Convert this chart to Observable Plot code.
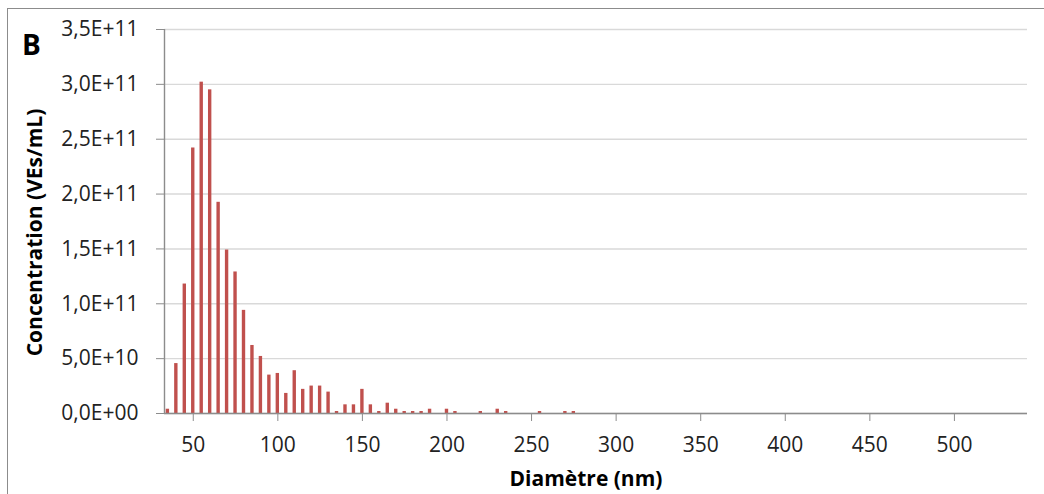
<!DOCTYPE html>
<html>
<head>
<meta charset="utf-8">
<script src="https://cdn.jsdelivr.net/npm/d3@7"></script>
<script src="https://cdn.jsdelivr.net/npm/@observablehq/plot@0.6"></script>
<style>
  html, body { margin: 0; padding: 0; background: #fff; overflow: hidden; }
  #wrap { position: relative; width: 1044px; height: 494px; overflow: hidden; }
  #wrap svg { display: block; }
  #frame { position: absolute; left: 7px; top: 8px; width: 1100px; height: 600px;
           border-left: 1.5px solid #8c8c8c; border-top: 1.5px solid #8c8c8c;
           pointer-events: none; box-sizing: border-box; }
</style>
</head>
<body>
<div id="wrap"><div id="frame"></div></div>
<script>
// Diameter bins (nm) and concentration (VEs/mL)
const diameters = [35, 40, 45, 50, 55, 60, 65, 70, 75, 80, 85, 90, 95, 100, 105, 110, 115, 120, 125, 130,
                   135, 140, 145, 150, 155, 160, 165, 170, 175, 180, 185, 190, 200, 205, 220, 230, 235, 255, 270, 275];
const concentrations = [3.9e9, 4.55e10, 1.18e11, 2.42e11, 3.02e11, 2.95e11, 1.925e11, 1.49e11, 1.29e11, 9.4e10,
                        6.2e10, 5.2e10, 3.5e10, 3.65e10, 1.83e10, 3.9e10, 2.2e10, 2.5e10, 2.5e10, 1.95e10,
                        1.8e9, 7.9e9, 7.9e9, 2.2e10, 7.9e9, 1.8e9, 9.4e9, 3.9e9, 1.8e9, 1.8e9,
                        1.8e9, 3.9e9, 3.9e9, 1.8e9, 1.8e9, 3.9e9, 1.8e9, 1.8e9, 1.8e9, 1.8e9];
const xTicks = [50, 100, 150, 200, 250, 300, 350, 400, 450, 500];
const yTicks = [0, 5e10, 1e11, 1.5e11, 2e11, 2.5e11, 3e11, 3.5e11];
const xLabel = "Diamètre (nm)";
const yLabel = "Concentration (VEs/mL)";
const panelLabel = "B";

const data = diameters.map((d, i) => ({d, v: concentrations[i]}));

function fmtE(v) {
  const [m, e] = v.toExponential(1).split("e");
  return m.replace(".", ",") + "E" + e[0] + e.slice(1).padStart(2, "0");
}

const chart = Plot.plot({
  width: 1044,
  height: 494,
  marginLeft: 164,
  marginRight: 17,
  marginTop: 29,
  marginBottom: 81,
  style: {fontFamily: "'Open Sans', sans-serif", fontSize: "21px", background: "#fff", color: "#222"},
  x: {domain: [33, 543.2]},
  y: {domain: [0, 3.5e11]},
  marks: [
    Plot.gridY(yTicks, {stroke: "#d9d9d9", strokeOpacity: 1, strokeWidth: 1.4}),
    Plot.rectY(data, {x1: d => d.d - 1, x2: d => d.d + 1, y: "v", fill: "#c0504d"}),
    Plot.ruleY([0], {stroke: "#8c8c8c", strokeWidth: 1.4}),
    Plot.ruleX([33], {stroke: "#8c8c8c", strokeWidth: 1.4}),
    Plot.axisX(xTicks, {tickSize: 8, tickPadding: 16, stroke: "#8c8c8c", fill: "#222", label: null, fontSize: 21}),
    Plot.axisY(yTicks, {tickSize: 8, tickPadding: 18, stroke: "#8c8c8c", fill: "#222", label: null, fontSize: 21, tickFormat: fmtE}),
    Plot.text([xLabel], {frameAnchor: "bottom", dy: 66, dx: -10, textAnchor: "middle", lineAnchor: "middle",
                         fontWeight: "bold", fontSize: 21, fill: "#000"}),
    Plot.text([yLabel], {frameAnchor: "left", dx: -129, dy: 11, rotate: -90, textAnchor: "middle", lineAnchor: "middle",
                         fontWeight: "bold", fontSize: 21, fill: "#000"}),
    Plot.text([panelLabel], {frameAnchor: "top-left", dx: -133, dy: 17, textAnchor: "middle", lineAnchor: "middle",
                             fontWeight: "bold", fontSize: 28, fill: "#000"})
  ]
});
document.getElementById("wrap").prepend(chart);
</script>
</body>
</html>
